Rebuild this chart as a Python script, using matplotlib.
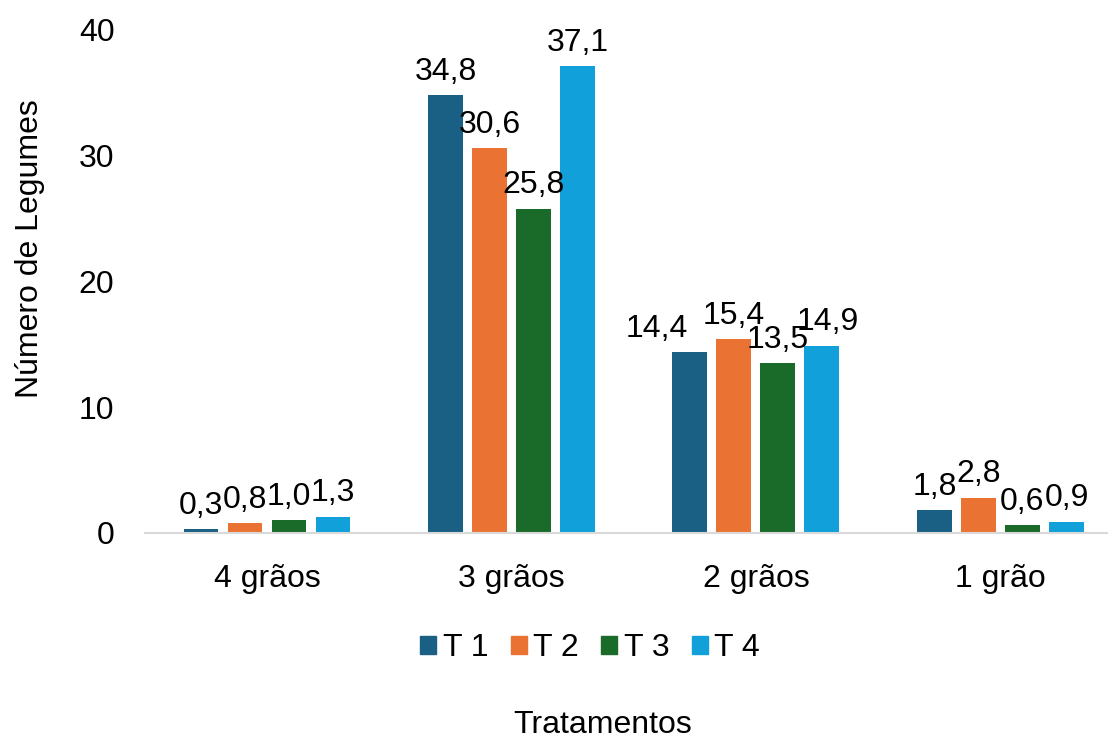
import numpy as np
import matplotlib
matplotlib.use("Agg")
import matplotlib.pyplot as plt
from matplotlib.patches import Patch

plt.rcParams['font.family'] = ['Liberation Sans', 'DejaVu Sans']

# data
categorias = ['4 grãos', '3 grãos', '2 grãos', '1 grão']
series = ['T 1', 'T 2', 'T 3', 'T 4']
t1 = [0.3, 34.8, 14.4, 1.8]
t2 = [0.8, 30.6, 15.4, 2.8]
t3 = [1.0, 25.8, 13.5, 0.6]
t4 = [1.3, 37.1, 14.9, 0.9]
valores = [t1, t2, t3, t4]
cores = ['#1a5f84', '#ea7233', '#1a6b2a', '#11a0d9']

fs = 23

fig = plt.figure(figsize=(11.08, 7.4), dpi=100)
ax = fig.add_axes([145/1108, 1-533/740, 1-145/1108, (533-30)/740])

x = np.arange(len(categorias))
w = 0.143
step = 0.18
# labels Excel nudged sideways to avoid overlap: (serie, categoria) -> dx pts
nudge = {(0, 2): -24, (3, 2): 4}
for i, (vals, c) in enumerate(zip(valores, cores)):
    pos = x + (i - 1.5)*step
    bars = ax.bar(pos, vals, width=w, color=c)
    for j, (b, v) in enumerate(zip(bars, vals)):
        ax.annotate(('%.1f' % v).replace('.', ','), (b.get_x()+b.get_width()/2, v),
                    xytext=(nudge.get((i, j), 0), 6), textcoords='offset points',
                    ha='center', va='bottom', fontsize=fs)

ax.set_xlim(-0.499, 3.44)
ax.set_ylim(0, 40)
ax.set_yticks([0, 10, 20, 30, 40])
ax.set_xticks(x)
ax.set_xticklabels(categorias)
ax.tick_params(axis='both', length=0, labelsize=fs)
ax.tick_params(axis='y', pad=22)
ax.tick_params(axis='x', pad=22)
for s in ['top', 'right', 'left']:
    ax.spines[s].set_visible(False)
ax.spines['bottom'].set_color('#d9d9d9')
ax.spines['bottom'].set_linewidth(1.5)

handles = [Patch(color=c) for c in cores]
fig.legend(handles, series, loc='center', bbox_to_anchor=(590/1108, 1-648/740),
           ncol=4, frameon=False, fontsize=fs, handlelength=0.5, handleheight=0.5,
           handletextpad=0.2, columnspacing=0.7)

fig.text(603/1108, 1-725/740, 'Tratamentos', ha='center', va='center', fontsize=fs)
fig.text(30/1108, 1-249/740, 'Número de Legumes', ha='center', va='center',
         rotation=90, fontsize=fs)

fig.savefig('out.png', dpi=100)
